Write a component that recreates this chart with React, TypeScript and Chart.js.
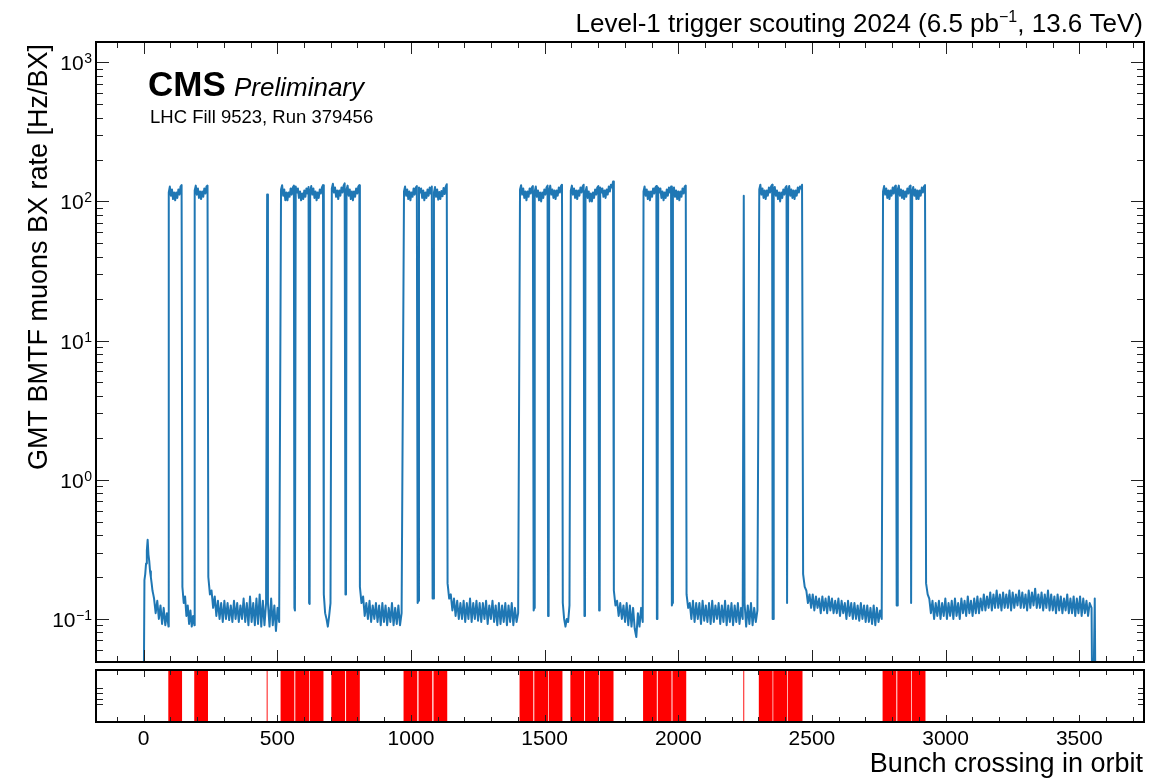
import React, { useEffect, useRef } from 'react';
import { Chart, registerables } from 'chart.js';

Chart.register(...registerables);

type Segment = { from: number; step: number; rate: number[] };

// ---- axis ranges & tick labels ----
const X_MIN = -178.2;
const X_MAX = 3742.2;
const Y_MIN = 0.049;
const Y_MAX = 1400;
const xMajorTicks = [0, 500, 1000, 1500, 2000, 2500, 3000, 3500];
const yDecades = [0.1, 1, 10, 100, 1000];
const yDecadeExponents = ['\u22121', '0', '1', '2', '3'];
const stripFracTicks = [0.2, 0.4, 0.6, 0.8];

// ---- colliding bunch trains (BX start, BX step, rate in Hz/BX) ----
const trainBatches: Segment[] = [
  { from: 94, step: 4, rate: [116, 128, 110, 122, 104, 116, 102, 116, 106, 122, 112, 128, 131] },
  { from: 191, step: 4, rate: [120, 130, 112, 124, 106, 118, 104, 118, 108, 124, 114, 128, 130] },
  { from: 462, step: 1, rate: [112] },
  { from: 514, step: 4, rate: [122, 131, 110, 122, 102, 116, 102, 116, 108, 124, 112, 126, 130] },
  { from: 569, step: 4, rate: [128, 116, 124, 106, 118, 102, 114, 104, 120, 108, 124, 114, 127] },
  { from: 623, step: 4, rate: [118, 129, 112, 124, 106, 118, 102, 116, 106, 122, 114, 126, 131] },
  { from: 704, step: 4, rate: [124, 134, 116, 126, 108, 120, 104, 120, 110, 126, 116, 130, 135] },
  { from: 759, step: 4, rate: [122, 130, 110, 122, 104, 118, 102, 118, 108, 124, 114, 128, 131] },
  { from: 974, step: 4, rate: [118, 128, 110, 122, 104, 118, 102, 116, 108, 124, 112, 126, 129] },
  { from: 1030, step: 4, rate: [126, 116, 124, 106, 120, 102, 116, 106, 122, 110, 126, 114, 128] },
  { from: 1086, step: 4, rate: [116, 127, 108, 122, 103, 117, 104, 119, 109, 125, 113, 128, 133] },
  { from: 1408, step: 4, rate: [122, 131, 112, 124, 106, 118, 102, 118, 108, 124, 114, 126, 129] },
  { from: 1463, step: 4, rate: [118, 128, 108, 120, 102, 116, 100, 116, 106, 122, 112, 126, 130] },
  { from: 1517, step: 4, rate: [120, 130, 112, 122, 106, 120, 104, 120, 110, 126, 116, 129, 132] },
  { from: 1598, step: 4, rate: [120, 130, 112, 124, 106, 120, 104, 120, 110, 126, 116, 128, 132] },
  { from: 1653, step: 4, rate: [118, 127, 106, 118, 100, 114, 100, 116, 106, 122, 112, 126, 129] },
  { from: 1708, step: 4, rate: [126, 116, 124, 108, 120, 106, 122, 112, 128, 118, 132, 126, 139] },
  { from: 1870, step: 4, rate: [118, 128, 110, 122, 104, 118, 102, 118, 108, 124, 114, 126, 129] },
  { from: 1925, step: 4, rate: [126, 116, 124, 106, 118, 102, 116, 106, 122, 110, 126, 116, 128] },
  { from: 1980, step: 4, rate: [116, 126, 108, 120, 104, 118, 102, 118, 108, 124, 114, 128, 130] },
  { from: 2245, step: 1, rate: [110] },
  { from: 2303, step: 4, rate: [122, 132, 112, 124, 106, 120, 104, 120, 110, 126, 116, 128, 132] },
  { from: 2357, step: 4, rate: [118, 127, 110, 120, 104, 116, 100, 116, 106, 122, 112, 126, 129] },
  { from: 2411, step: 4, rate: [120, 129, 110, 122, 106, 120, 104, 120, 110, 126, 116, 128, 124, 132] },
  { from: 2766, step: 4, rate: [118, 129, 112, 124, 106, 120, 104, 120, 110, 126, 114, 128, 130] },
  { from: 2821, step: 4, rate: [122, 130, 110, 122, 106, 120, 104, 118, 108, 124, 114, 128, 130] },
  { from: 2875, step: 4, rate: [118, 127, 110, 122, 104, 120, 104, 120, 110, 126, 116, 128, 131] },
];

// ---- non-colliding BX: background, afterglow and short gaps between batches ----
const lowRateSegments: Segment[] = [
  { from: 0, step: 3, rate: [0.02, 0.19, 0.21, 0.25, 0.31, 0.37, 0.29, 0.26, 0.22, 0.2, 0.18, 0.16, 0.15] },
  { from: 39, step: 6, rate: [0.14, 0.11, 0.135, 0.1, 0.125, 0.092, 0.12, 0.09, 0.11, 0.088] },
  { from: 145, step: 5, rate: [0.17, 0.13, 0.145, 0.105, 0.125, 0.092, 0.115, 0.088, 0.105, 0.09] },
  { from: 242, step: 6, rate: [0.2, 0.15, 0.16, 0.12, 0.145, 0.105, 0.135, 0.1, 0.13, 0.095, 0.135, 0.1, 0.13, 0.098, 0.125, 0.095, 0.135, 0.1, 0.13, 0.095, 0.125, 0.1, 0.14, 0.095, 0.13, 0.09, 0.145, 0.095, 0.13, 0.09, 0.14, 0.092, 0.15, 0.088, 0.135, 0.09, 0.13] },
  { from: 465, step: 6, rate: [0.13, 0.088, 0.14, 0.09, 0.125, 0.082, 0.12, 0.095] },
  { from: 564, step: 2, rate: [0.12, 0.115] },
  { from: 619, step: 2, rate: [0.13, 0.128] },
  { from: 674, step: 5, rate: [0.15, 0.11, 0.1, 0.088, 0.105, 0.13] },
  { from: 755, step: 2, rate: [0.15, 0.16] },
  { from: 809, step: 6, rate: [0.17, 0.13, 0.145, 0.105, 0.13, 0.1, 0.135, 0.095, 0.125, 0.1, 0.13, 0.095, 0.125, 0.09, 0.13, 0.095, 0.125, 0.09, 0.12, 0.095, 0.13, 0.09, 0.12, 0.092, 0.125, 0.09, 0.11] },
  { from: 1025, step: 2, rate: [0.13, 0.135] },
  { from: 1081, step: 2, rate: [0.14, 0.14] },
  { from: 1137, step: 6, rate: [0.18, 0.14, 0.15, 0.115, 0.14, 0.105, 0.135, 0.1, 0.13, 0.1, 0.135, 0.095, 0.13, 0.1, 0.14, 0.095, 0.13, 0.1, 0.135, 0.097, 0.13, 0.095, 0.13, 0.1, 0.135, 0.092, 0.125, 0.1, 0.135, 0.095, 0.125, 0.09, 0.13, 0.092, 0.125, 0.095, 0.13, 0.09, 0.125, 0.095, 0.13, 0.09, 0.12, 0.095, 0.11] },
  { from: 1459, step: 2, rate: [0.115, 0.12] },
  { from: 1513, step: 2, rate: [0.105, 0.11] },
  { from: 1568, step: 5, rate: [0.13, 0.1, 0.088, 0.1, 0.095, 0.125] },
  { from: 1649, step: 2, rate: [0.105, 0.11] },
  { from: 1704, step: 2, rate: [0.115, 0.12] },
  { from: 1759, step: 6, rate: [0.16, 0.125, 0.135, 0.105, 0.13, 0.1, 0.125, 0.095, 0.13, 0.09, 0.125, 0.088, 0.12, 0.085, 0.074, 0.11, 0.088, 0.12, 0.095] },
  { from: 1920, step: 2, rate: [0.1, 0.1] },
  { from: 1976, step: 2, rate: [0.125, 0.13] },
  { from: 2031, step: 6, rate: [0.15, 0.12, 0.13, 0.1, 0.135, 0.095, 0.13, 0.1, 0.13, 0.092, 0.135, 0.097, 0.125, 0.095, 0.13, 0.092, 0.135, 0.095, 0.125, 0.1, 0.13, 0.092, 0.125, 0.095, 0.135, 0.09, 0.125, 0.095, 0.13, 0.09, 0.125, 0.095, 0.13, 0.092, 0.12, 0.1] },
  { from: 2248, step: 6, rate: [0.13, 0.088, 0.125, 0.092, 0.13, 0.09, 0.12, 0.095, 0.115] },
  { from: 2353, step: 2, rate: [0.1, 0.1] },
  { from: 2407, step: 2, rate: [0.13, 0.13] },
  { from: 2467, step: 6, rate: [0.21, 0.17, 0.16, 0.13, 0.15, 0.12, 0.15, 0.115, 0.145, 0.12, 0.14, 0.11, 0.145, 0.115, 0.14, 0.11, 0.145, 0.115, 0.14, 0.11, 0.135, 0.11, 0.14, 0.105, 0.135, 0.11, 0.13, 0.1, 0.135, 0.105, 0.13, 0.1, 0.13, 0.1, 0.125, 0.097, 0.13, 0.1, 0.125, 0.095, 0.125, 0.095, 0.12, 0.092, 0.125, 0.09, 0.12, 0.095, 0.115, 0.1] },
  { from: 2817, step: 2, rate: [0.125, 0.125] },
  { from: 2871, step: 2, rate: [0.13, 0.13] },
  { from: 2927, step: 6, rate: [
    0.18, 0.15, 0.14, 0.11, 0.135, 0.1, 0.13, 0.105, 0.135, 0.1,
    0.13, 0.105, 0.14, 0.1, 0.13, 0.105, 0.135, 0.1, 0.14, 0.105,
    0.13, 0.1, 0.14, 0.11, 0.135, 0.105, 0.145, 0.11, 0.135, 0.105,
    0.14, 0.11, 0.145, 0.11, 0.14, 0.115, 0.15, 0.115, 0.145, 0.12,
    0.155, 0.115, 0.15, 0.12, 0.16, 0.12, 0.15, 0.115, 0.155, 0.12,
    0.15, 0.12, 0.16, 0.115, 0.155, 0.12, 0.15, 0.125, 0.16, 0.12,
    0.155, 0.12, 0.15, 0.115, 0.16, 0.12, 0.155, 0.125, 0.165, 0.12,
    0.15, 0.12, 0.155, 0.115, 0.15, 0.12, 0.16, 0.115, 0.15, 0.115,
    0.145, 0.11, 0.15, 0.115, 0.145, 0.11, 0.14, 0.115, 0.15, 0.11,
    0.14, 0.11, 0.145, 0.105, 0.14, 0.11, 0.145, 0.105, 0.14, 0.11,
    0.135, 0.105, 0.13,
  ] },
  { from: 3546, step: 3, rate: [0.12, 0.02, 0.02, 0.02, 0.14, 0.02] },
];

// ---- texts ----
const titleMain = 'Level-1 trigger scouting 2024 (6.5 pb';
const titleSup = '\u22121';
const titleEnd = ', 13.6 TeV)';
const yTitle = 'GMT BMTF muons BX rate [Hz/BX]';
const xTitle = 'Bunch crossing in orbit';
const cmsLabel = 'CMS';
const cmsExtra = 'Preliminary';
const runLabel = 'LHC Fill 9523, Run 379456';

const FONT = '"Liberation Sans", Arial, Helvetica, sans-serif';
const LINE_COLOR = '#1f77b4';
const STRIP_TOP = 664;

const allSegments = [...trainBatches, ...lowRateSegments].sort((a, b) => a.from - b.from);
const ratePoints = allSegments.flatMap((s) => s.rate.map((r, i) => ({ x: s.from + i * s.step, y: r })));
const redBands = trainBatches.map((s) => ({
  x: [s.from - 0.5, s.from + s.step * (s.rate.length - 1) + 0.5],
  y: 'BX',
}));

const mainDecor = {
  id: 'mainDecor',
  afterDraw(chart: any) {
    const { ctx, chartArea: a } = chart;
    const xs = chart.scales.x;
    const ys = chart.scales.y;
    ctx.save();
    ctx.strokeStyle = '#222';
    ctx.lineWidth = 1;
    ctx.beginPath();
    for (let v = -100; v <= 3700; v += 100) {
      const p = Math.round(xs.getPixelForValue(v)) + 0.5;
      const len = v % 500 === 0 ? 12 : 6;
      ctx.moveTo(p, a.bottom);
      ctx.lineTo(p, a.bottom - len);
      ctx.moveTo(p, a.top);
      ctx.lineTo(p, a.top + len);
    }
    for (let e = -2; e <= 3; e++) {
      for (let m = 1; m <= 9; m++) {
        const v = m * Math.pow(10, e);
        if (v < Y_MIN || v > Y_MAX) continue;
        const p = Math.round(ys.getPixelForValue(v)) + 0.5;
        const len = m === 1 ? 13 : 7;
        ctx.moveTo(a.left, p);
        ctx.lineTo(a.left + len, p);
        ctx.moveTo(a.right, p);
        ctx.lineTo(a.right - len, p);
      }
    }
    ctx.stroke();
    ctx.lineWidth = 2;
    ctx.strokeStyle = '#000';
    ctx.strokeRect(a.left, a.top, a.right - a.left, a.bottom - a.top);

    ctx.fillStyle = '#000';
    ctx.textBaseline = 'alphabetic';
    // y tick labels 10^n
    yDecades.forEach((v, i) => {
      const p = ys.getPixelForValue(v);
      ctx.textAlign = 'right';
      ctx.font = `14px ${FONT}`;
      const sw = ctx.measureText(yDecadeExponents[i]).width;
      ctx.fillText(yDecadeExponents[i], 92, p + 1);
      ctx.font = `21px ${FONT}`;
      ctx.fillText('10', 92 - sw - 0.5, p + 8);
    });

    // y title
    ctx.save();
    ctx.translate(47, 44);
    ctx.rotate(-Math.PI / 2);
    ctx.textAlign = 'right';
    ctx.font = `27px ${FONT}`;
    ctx.fillText(yTitle, 0, 0);
    ctx.restore();

    // top-right title
    ctx.textAlign = 'left';
    ctx.font = `26px ${FONT}`;
    const w1 = ctx.measureText(titleMain).width;
    const w3 = ctx.measureText(titleEnd).width;
    ctx.font = `16px ${FONT}`;
    const w2 = ctx.measureText(titleSup).width;
    let tx = 1143 - (w1 + w2 + w3);
    ctx.font = `26px ${FONT}`;
    ctx.fillText(titleMain, tx, 32);
    tx += w1;
    ctx.font = `16px ${FONT}`;
    ctx.fillText(titleSup, tx, 22);
    tx += w2;
    ctx.font = `26px ${FONT}`;
    ctx.fillText(titleEnd, tx, 32);

    // CMS label
    ctx.font = `bold 35px ${FONT}`;
    ctx.fillText(cmsLabel, 148, 96);
    ctx.font = `italic 26px ${FONT}`;
    ctx.fillText(cmsExtra, 234, 96);
    ctx.font = `18.5px ${FONT}`;
    ctx.fillText(runLabel, 150, 123);
    ctx.restore();
  },
};

const stripDecor = {
  id: 'stripDecor',
  afterDraw(chart: any) {
    const { ctx, chartArea: a } = chart;
    const xs = chart.scales.x;
    const yf = chart.scales.yFrac;
    ctx.save();
    ctx.strokeStyle = '#222';
    ctx.lineWidth = 1;
    ctx.beginPath();
    for (let v = -100; v <= 3700; v += 100) {
      const p = Math.round(xs.getPixelForValue(v)) + 0.5;
      const len = v % 500 === 0 ? 7 : 5;
      ctx.moveTo(p, a.bottom);
      ctx.lineTo(p, a.bottom - len);
      ctx.moveTo(p, a.top);
      ctx.lineTo(p, a.top + len);
    }
    stripFracTicks.forEach((f) => {
      const p = Math.round(yf.getPixelForValue(f)) + 0.5;
      ctx.moveTo(a.left, p);
      ctx.lineTo(a.left + 7, p);
      ctx.moveTo(a.right, p);
      ctx.lineTo(a.right - 6, p);
    });
    ctx.stroke();
    ctx.lineWidth = 2;
    ctx.strokeStyle = '#000';
    ctx.strokeRect(a.left, a.top, a.right - a.left, a.bottom - a.top);

    ctx.fillStyle = '#000';
    ctx.textBaseline = 'alphabetic';
    ctx.textAlign = 'center';
    ctx.font = `21px ${FONT}`;
    xMajorTicks.forEach((v) => {
      ctx.fillText(String(v), xs.getPixelForValue(v), 745 - STRIP_TOP);
    });
    ctx.textAlign = 'right';
    ctx.font = `27px ${FONT}`;
    ctx.fillText(xTitle, 1143, 772 - STRIP_TOP);
    ctx.restore();
  },
};

export default function App() {
  const mainRef = useRef<HTMLCanvasElement>(null);
  const stripRef = useRef<HTMLCanvasElement>(null);

  useEffect(() => {
    const main = new Chart(mainRef.current as HTMLCanvasElement, {
      type: 'line',
      data: {
        datasets: [
          {
            data: ratePoints as any,
            borderColor: LINE_COLOR,
            borderWidth: 2,
            pointRadius: 0,
            tension: 0,
            fill: false,
            borderJoinStyle: 'round',
          },
        ],
      },
      options: {
        animation: false,
        responsive: false,
        devicePixelRatio: 1,
        events: [],
        layout: { padding: { left: 96, right: 7, top: 42, bottom: 6 } },
        scales: {
          x: { type: 'linear', min: X_MIN, max: X_MAX, display: false },
          y: { type: 'logarithmic', min: Y_MIN, max: Y_MAX, display: false },
        },
        plugins: { legend: { display: false }, tooltip: { enabled: false } },
      },
      plugins: [mainDecor],
    });

    const strip = new Chart(stripRef.current as HTMLCanvasElement, {
      type: 'bar',
      data: {
        labels: ['BX'],
        datasets: [
          {
            data: redBands as any,
            backgroundColor: '#ff0000',
            borderWidth: 0,
            barPercentage: 1,
            categoryPercentage: 1,
          },
        ],
      },
      options: {
        indexAxis: 'y',
        animation: false,
        responsive: false,
        devicePixelRatio: 1,
        events: [],
        layout: { padding: { left: 96, right: 7, top: 6, bottom: 56 } },
        scales: {
          x: { type: 'linear', min: X_MIN, max: X_MAX, display: false },
          y: { type: 'category', display: false },
          yFrac: { type: 'linear', axis: 'y', position: 'left', min: 0, max: 1, display: false },
        },
        plugins: { legend: { display: false }, tooltip: { enabled: false } },
      } as any,
      plugins: [stripDecor],
    });

    return () => {
      main.destroy();
      strip.destroy();
    };
  }, []);

  return (
    <div style={{ position: 'absolute', left: 0, top: 0, width: 1151, height: 778, background: '#fff', overflow: 'hidden' }}>
      <canvas ref={mainRef} width={1151} height={668} style={{ position: 'absolute', left: 0, top: 0 }} />
      <canvas ref={stripRef} width={1151} height={114} style={{ position: 'absolute', left: 0, top: STRIP_TOP }} />
    </div>
  );
}
